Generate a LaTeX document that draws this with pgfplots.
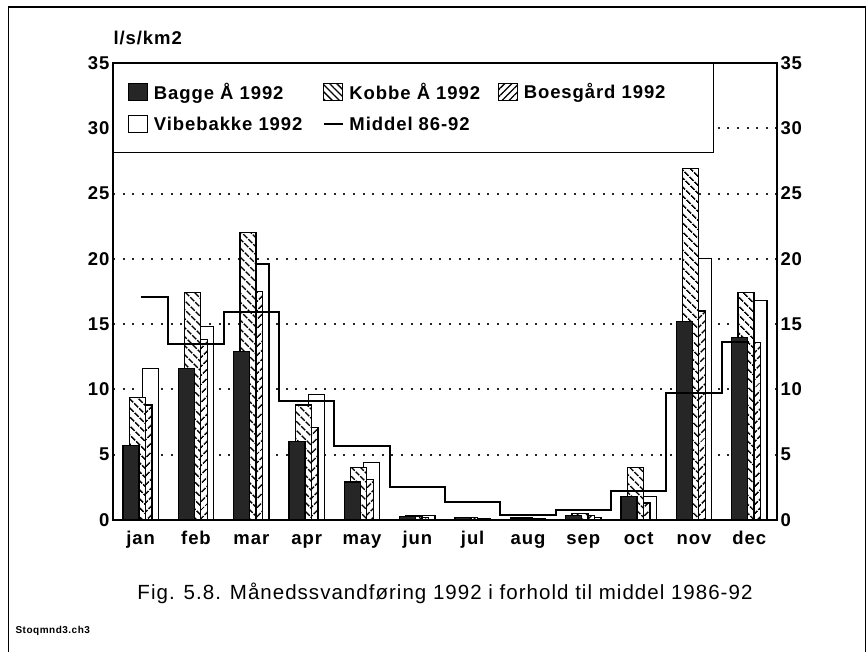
\documentclass[border=0pt]{standalone}
\usepackage{pgfplots}
\pgfplotsset{compat=1.18}
\usepackage{fontspec}
\setmainfont{Liberation Sans}[LetterSpace=5]
\usetikzlibrary{patterns.meta}
\newcommand{\tickfont}{\fontsize{18.5}{20}\selectfont\bfseries}
\begin{document}
\begin{tikzpicture}
\useasboundingbox (0,0) rectangle (867pt,652pt);
\fill[white] (0,0) rectangle (867pt,652pt);
% outer frame
\draw[line width=1.2pt] (8.5pt,0pt) -- (8.5pt,645pt) -- (865.5pt,645pt) -- (865.5pt,0pt);
\begin{axis}[
  at={(113pt,132pt)}, anchor=south west, scale only axis,
  width=664pt, height=457pt,
  xmin=-0.5, xmax=11.5, ymin=0, ymax=35,
  xtick={0,...,11},
  xticklabels={jan,feb,mar,apr,may,jun,jul,aug,sep,oct,nov,dec},
  ytick={0,5,...,35},
  major tick length=0pt,
  ymajorgrids,
  grid style={line width=2pt, dash pattern=on 2pt off 7.6pt, black!85},
  axis line style={line width=1.3pt},
  tick label style={font=\tickfont},
  xticklabel style={anchor=base, yshift=-25pt},
  /pgf/number format/assume math mode=true,
  legend columns=3,
  legend cell align=left,
  legend style={at={(0,1)}, anchor=north west, draw=black, line width=1.3pt,
    fill=white, inner xsep=14pt, inner ysep=19pt, row sep=14pt, column sep=0pt,
    font=\tickfont, nodes={inner sep=0pt}},
]
% legend images in legend order
\addlegendimage{legend image code/.code={\draw[line width=1.2pt, fill=black!85] (0pt,-8.5pt) rectangle (19pt,8.5pt); \path (25pt,0pt);}}
\addlegendentry{\makebox[169pt][l]{Bagge Å 1992\rule[-5pt]{0pt}{19pt}}}
\addlegendimage{legend image code/.code={\draw[line width=1.2pt, pattern={Lines[angle=-45,distance=5pt,line width=1.3pt]}] (0pt,-8.5pt) rectangle (19pt,8.5pt); \path (25pt,0pt);}}
\addlegendentry{\makebox[148pt][l]{Kobbe Å 1992\rule[-5pt]{0pt}{19pt}}}
\addlegendimage{legend image code/.code={\draw[line width=1.2pt, pattern={Lines[angle=45,distance=5pt,line width=1.3pt]}] (0pt,-8.5pt) rectangle (19pt,8.5pt); \path (25pt,0pt);}}
\addlegendentry{\makebox[176pt][l]{Boesgård 1992\rule[-5pt]{0pt}{19pt}}}
\addlegendimage{legend image code/.code={\draw[line width=1.2pt, fill=white] (0pt,-8.5pt) rectangle (19pt,8.5pt); \path (25pt,0pt);}}
\addlegendentry{\makebox[169pt][l]{Vibebakke 1992\rule[-5pt]{0pt}{19pt}}}
\addlegendimage{legend image code/.code={\draw[line width=1.8pt] (0pt,0pt) -- (19pt,0pt); \path (0pt,-8.5pt) (25pt,8.5pt);}}
\addlegendentry{\makebox[148pt][l]{Middel 86-92\rule[-5pt]{0pt}{19pt}}}

% Vibebakke 1992 (back)
\addplot[forget plot, ybar, bar width=16pt, bar shift=9.8pt, fill=white, draw=black, line width=1.3pt]
 coordinates {(0,11.6) (1,14.8) (2,19.6) (3,9.6) (4,4.4) (5,0.35) (6,0.1) (7,0.1) (8,0.2) (9,1.8) (10,20.0) (11,16.8)};
% Boesgaard 1992
\addplot[forget plot, ybar, bar width=16pt, bar shift=3.3pt, fill=white, draw=black, line width=1.3pt,
  postaction={pattern={Lines[angle=45,distance=6.5pt,line width=1.6pt]}}]
 coordinates {(0,8.8) (1,13.8) (2,17.5) (3,7.1) (4,3.1) (5,0.2) (6,0.1) (7,0.1) (8,0.35) (9,1.3) (10,16.0) (11,13.6)};
% Kobbe Aa 1992
\addplot[forget plot, ybar, bar width=16pt, bar shift=-3.3pt, fill=white, draw=black, line width=1.3pt,
  postaction={pattern={Lines[angle=-45,distance=6.5pt,line width=1.6pt]}}]
 coordinates {(0,9.4) (1,17.4) (2,22.0) (3,8.8) (4,4.0) (5,0.3) (6,0.2) (7,0.15) (8,0.5) (9,4.0) (10,26.9) (11,17.4)};
% Bagge Aa 1992 (front)
\addplot[forget plot, ybar, bar width=16pt, bar shift=-9.8pt, fill=black!85, draw=black, line width=1.3pt]
 coordinates {(0,5.7) (1,11.6) (2,12.9) (3,6.0) (4,2.9) (5,0.25) (6,0.2) (7,0.15) (8,0.35) (9,1.8) (10,15.2) (11,14.0)};
% Middel 86-92
\addplot[forget plot, const plot mark mid, line width=2pt, black, mark=none]
 coordinates {(0,17.1) (1,13.5) (2,15.9) (3,9.1) (4,5.7) (5,2.55) (6,1.35) (7,0.4) (8,0.8) (9,2.2) (10,9.7) (11,13.6)};
\end{axis}
% right-hand tick labels
\begin{axis}[
  at={(113pt,132pt)}, anchor=south west, scale only axis,
  width=664pt, height=457pt,
  xmin=-0.5, xmax=11.5, ymin=0, ymax=35,
  hide x axis, axis y line*=right,
  ytick={0,5,...,35}, major tick length=0pt,
  axis line style={draw=none},
  tick label style={font=\tickfont},
  /pgf/number format/assume math mode=true,
]
\addplot[draw=none] coordinates {(0,0)};
\end{axis}
\node[anchor=base west, font=\tickfont] at (110pt,607pt) {l/s/km2};
\node[anchor=base, font=\fontsize{20.5}{22}\selectfont] at (445pt,52pt) {Fig. 5.8. Månedssvandføring 1992 i forhold til middel 1986-92};
\node[anchor=base west, font=\fontsize{10}{12}\selectfont\bfseries] at (12pt,18pt) {Stoqmnd3.ch3};
\end{tikzpicture}
\end{document}
